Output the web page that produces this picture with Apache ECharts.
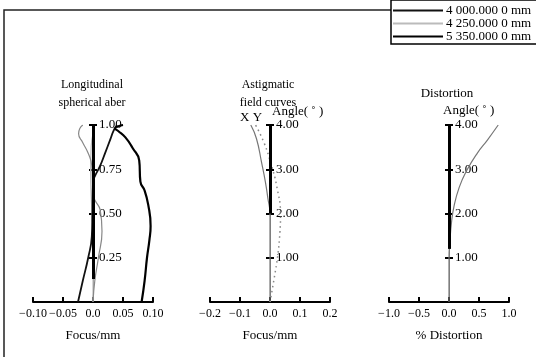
<!DOCTYPE html>
<html lang="en">
<head>
  <meta charset="UTF-8">
  <title>像差曲线</title>
  <script src="https://cdn.jsdelivr.net/npm/echarts@6/dist/echarts.min.js"></script>
  <style>
    html, body { margin: 0; padding: 0; background: #fff; }
  </style>
</head>
<body>
  <div id="main" style="width: 536px;height:357px"></div>
  <script>
    // 1. 数据：每条曲线都是 [焦点偏移, 归一化高度/视场角]
    var legendNames = ['4 000.000 0 mm', '4 250.000 0 mm', '5 350.000 0 mm']

    // 纵向球差 (Focus/mm, 相对孔径)
    var sa4000 = [[-0.025, 0], [-0.017, 0.12], [-0.008, 0.25], [-0.002, 0.37], [-0.001, 0.5], [0, 0.68],
      [0.003, 0.71], [0.012, 0.77], [0.02, 0.84], [0.029, 0.92], [0.034, 0.966], [0.04, 1.0]]
    var sa4250 = [[0, 0], [0, 0.3], [-0.001, 0.45], [-0.003, 0.6], [-0.004, 0.75], [-0.003, 0.88], [0, 0.95]]
    var sa4250b = [[0, 0], [0.003, 0.12], [0.009, 0.25], [0.015, 0.4], [0.012, 0.52], [0.004, 0.57], [0, 0.61],
      [-0.002, 0.77], [-0.008, 0.84], [-0.017, 0.9], [-0.024, 0.95], [-0.022, 0.98], [-0.017, 1.0]]
    var sa5350 = [[0.081, 0], [0.086, 0.12], [0.09, 0.25], [0.094, 0.35], [0.096, 0.43], [0.092, 0.55],
      [0.086, 0.63], [0.079, 0.68], [0.077, 0.8], [0.066, 0.87], [0.054, 0.93], [0.042, 0.966], [0.037, 0.98], [0.05, 1.0]]

    // 像散场曲 (Focus/mm, 视场角)
    var astX = [[0, 0], [0, 1.0], [0, 2.0], [-0.007, 2.34], [-0.015, 2.7], [-0.028, 3.15], [-0.045, 3.69], [-0.064, 4.0]]
    var astY = [[0, 0], [0.014, 0.54], [0.026, 1.06], [0.033, 1.57], [0.035, 1.96], [0.022, 2.63], [0.002, 3.15],
      [-0.02, 3.6], [-0.048, 4.0]]

    // 畸变 (%, 视场角)
    var distortion = [[0, 0], [0, 1.0], [0.017, 1.4], [0.04, 1.78], [0.08, 2.14], [0.17, 2.59], [0.295, 2.97],
      [0.47, 3.36], [0.64, 3.66], [0.82, 4.0]]

    // 纵轴上黑色粗线的范围
    var saAxisSpan = [0.13, 1.0]
    var astAxisSpan = [2.0, 4.0]
    var distAxisSpan = [1.2, 4.0]

    var font = 'Liberation Serif'
    var mCharts = echarts.init(document.getElementById('main'))

    function fmt(digits) {
      return function (v) {
        if (Math.abs(v) < 1e-9) return '0.0'
        return v.toFixed(digits).replace('-', '\u2212')
      }
    }

    // 主网格的横轴（可见）
    function xAxisOf(idx, min, max, interval, digits, name) {
      return {
        gridIndex: idx, type: 'value', min: min, max: max, interval: interval,
        name: name, nameLocation: 'middle', nameGap: 27,
        nameTextStyle: { fontFamily: font, fontSize: 13, color: '#000' },
        axisLine: { onZero: false, lineStyle: { color: '#000', width: 2 } },
        axisTick: { inside: true, length: 5, lineStyle: { color: '#000', width: 2 } },
        axisLabel: {
          formatter: fmt(digits), fontFamily: font, fontSize: 12, color: '#000', margin: 6,
          interval: 0, showMinLabel: true, showMaxLabel: true, hideOverlap: false
        },
        splitLine: { show: false }
      }
    }

    // 主网格的纵轴（隐藏，只提供比例尺）
    function hiddenY(idx, max) {
      return { gridIndex: idx, type: 'value', min: 0, max: max, show: false }
    }

    // 轴网格：左边缘就是 x=0 的位置
    function hiddenX(idx) {
      return { gridIndex: idx, type: 'value', min: 0, max: 1, show: false }
    }

    function axisY(idx, max, interval, withLabel) {
      return {
        gridIndex: idx, type: 'value', min: 0, max: max, interval: interval, position: 'left',
        axisLine: { show: true, lineStyle: { color: '#888', width: 1 } },
        axisTick: { show: true, inside: withLabel, length: 4, lineStyle: { color: '#000', width: 2 } },
        axisLabel: {
          show: withLabel, inside: true, margin: 6,
          formatter: function (v) { return v === 0 ? '' : v.toFixed(2) },
          fontFamily: font, fontSize: 13, color: '#000'
        },
        splitLine: { show: false }
      }
    }

    function blackSpan(span) {
      return {
        silent: true, symbol: 'none', label: { show: false },
        lineStyle: { color: '#000', width: 3, type: 'solid' },
        data: [[{ coord: [0, span[0]] }, { coord: [0, span[1]] }]]
      }
    }

    function curve(name, data, xi, yi, color, width, type) {
      return {
        name: name, type: 'line', xAxisIndex: xi, yAxisIndex: yi, data: data,
        smooth: true, symbol: 'none', animation: false,
        lineStyle: { color: color, width: width, type: type || 'solid' },
        itemStyle: { color: color }
      }
    }

    var saMain = curve(legendNames[0], sa4000, 0, 0, '#111', 1.8)
    saMain.markLine = blackSpan(saAxisSpan)
    var astMain = curve('X', astX, 1, 1, '#777', 1.2)
    astMain.markLine = blackSpan(astAxisSpan)
    var distMain = curve('dist', distortion, 2, 2, '#777', 1.2)
    distMain.markLine = blackSpan(distAxisSpan)

    var txt = { fontFamily: font, fontSize: 12, fontWeight: 'normal', color: '#000', lineHeight: 18 }
    var txt13 = Object.assign({}, txt, { fontSize: 13 })
    var plotTop = 125, plotH = 177

    function label(text, left, top, center, style) {
      return {
        text: text, left: left, top: top, padding: 0, itemGap: 0,
        textAlign: center ? 'center' : 'left', textStyle: style || txt
      }
    }

    var option = {
      backgroundColor: '#fff',
      animation: false,
      grid: [
        { left: 33, width: 120, top: plotTop, height: plotH },
        { left: 210, width: 120, top: plotTop, height: plotH },
        { left: 389, width: 120, top: plotTop, height: plotH },
        { left: 93, width: 60, top: plotTop, height: plotH },
        { left: 270, width: 60, top: plotTop, height: plotH },
        { left: 449, width: 60, top: plotTop, height: plotH }
      ],
      title: [
        label('Longitudinal\nspherical aber', 92, 76, true),
        label('Astigmatic\nfield curves', 268, 76, true),
        label('Distortion', 447, 85, true, txt13),
        label('Angle( \u02da )', 272, 103, false, txt13),
        label('Angle( \u02da )', 443, 102, false, txt13),
        label('X Y', 240, 109, false, txt13)
      ],
      legend: {
        data: legendNames, orient: 'vertical', left: 391, top: 0, icon: 'rect',
        borderColor: '#000', borderWidth: 1.5, borderRadius: 0,
        padding: [4, 10, 1, 2], itemGap: 0, itemWidth: 50, itemHeight: 2,
        textStyle: { fontFamily: font, fontSize: 13, color: '#000', lineHeight: 12.5, padding: [0, 0, 0, -2] }
      },
      graphic: [{
        type: 'polyline', silent: true,
        shape: { points: [[4, 357], [4, 10], [391, 10]] },
        style: { stroke: '#222', lineWidth: 1.5, fill: null }
      }],
      xAxis: [
        xAxisOf(0, -0.1, 0.1, 0.05, 2, 'Focus/mm'),
        xAxisOf(1, -0.2, 0.2, 0.1, 1, 'Focus/mm'),
        xAxisOf(2, -1.0, 1.0, 0.5, 1, '% Distortion'),
        hiddenX(3), hiddenX(4), hiddenX(5)
      ],
      yAxis: [
        hiddenY(0, 1), hiddenY(1, 4), hiddenY(2, 4),
        axisY(3, 1, 0.25, false), axisY(3, 1, 0.25, true),
        axisY(4, 4, 1, false), axisY(4, 4, 1, true),
        axisY(5, 4, 1, false), axisY(5, 4, 1, true)
      ],
      series: [
        curve(legendNames[1], sa4250, 0, 0, '#bbb', 1.2),
        curve(legendNames[1], sa4250b, 0, 0, '#888', 1.2),
        saMain,
        curve(legendNames[2], sa5350, 0, 0, '#000', 2.2),
        astMain,
        curve('Y', astY, 1, 1, '#888', 1.5, [1.5, 3.5]),
        distMain
      ]
    }
    // 轴网格里需要一个看不见的系列，纵轴才会画出来
    option.series.push(
      { type: 'line', xAxisIndex: 3, yAxisIndex: 4, data: [], silent: true },
      { type: 'line', xAxisIndex: 4, yAxisIndex: 6, data: [], silent: true },
      { type: 'line', xAxisIndex: 5, yAxisIndex: 8, data: [], silent: true }
    )
    mCharts.setOption(option)
  </script>
</body>
</html>
